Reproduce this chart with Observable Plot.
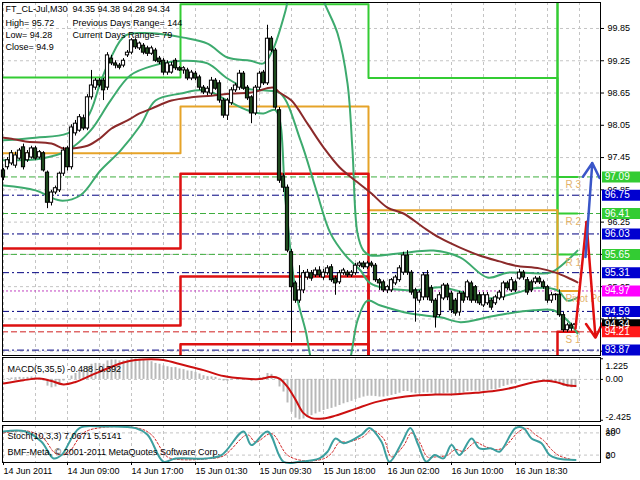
<!DOCTYPE html>
<html><head><meta charset="utf-8">
<script src="https://cdn.jsdelivr.net/npm/d3@7"></script>
<script src="https://cdn.jsdelivr.net/npm/@observablehq/plot@0.6"></script>
<style>
html,body{margin:0;padding:0;background:#fff;}
#wrap{position:relative;width:640px;height:480px;overflow:hidden;background:#fff;}
#wrap svg{position:absolute;left:0;}
</style></head><body><div id="wrap"></div>
<script>
// ---------- DATA ----------
const O = [97.21,97.27,97.34,97.30,97.43,97.64,97.40,97.45,97.62,97.45,
97.53,97.17,96.61,96.80,96.84,97.15,97.62,97.27,97.90,97.95,
98.18,97.99,98.57,98.75,98.88,98.88,98.75,99.29,99.20,99.16,
99.16,99.35,99.40,99.63,99.48,99.53,99.48,99.38,99.44,99.29,
99.25,99.03,99.03,99.25,99.11,99.07,99.07,98.92,99.01,98.94,
98.75,98.66,98.64,98.88,98.83,98.51,98.23,98.46,98.70,98.75,
99.01,98.75,98.57,98.27,98.75,99.03,98.83,99.66,99.44,98.33,
97.10,96.89,95.69,95.11,94.79,94.98,95.22,95.30,95.26,95.35,
95.22,95.30,95.41,95.20,95.13,95.30,95.31,95.26,95.30,95.44,
95.48,95.41,95.48,95.44,95.17,95.13,94.98,94.98,95.11,95.17,
95.31,95.63,95.31,94.98,94.79,94.85,95.26,95.02,94.79,94.52,
94.83,95.07,94.92,94.79,94.57,94.92,94.85,95.11,95.04,94.89,
94.70,94.74,94.79,94.74,94.83,94.85,95.11,94.98,95.13,95.20,
95.31,95.17,95.13,95.13,95.20,95.13,95.04,94.79,94.89,94.90,
94.52,94.24,94.33,94.35];
const H = [97.25,97.45,97.58,97.55,97.62,97.70,97.58,97.66,97.66,97.58,
97.56,97.20,96.84,96.92,97.18,97.64,97.66,98.06,98.14,98.25,
98.24,98.62,99.07,98.92,98.92,98.92,99.40,99.35,99.25,99.20,
99.29,99.44,99.66,99.66,99.60,99.57,99.52,99.52,99.48,99.33,
99.29,99.25,99.22,99.29,99.14,99.14,99.11,99.07,99.05,98.98,
98.79,98.77,98.94,98.92,98.88,98.55,98.55,98.75,98.83,99.07,
99.05,98.79,98.60,98.79,99.05,99.07,99.91,99.70,99.48,98.38,
97.15,96.94,95.74,95.15,95.44,95.35,95.37,95.35,95.40,95.42,
95.37,95.44,95.46,95.24,95.35,95.39,95.35,95.35,95.48,95.52,
95.52,95.52,95.52,95.48,95.20,95.17,95.07,95.20,95.26,95.44,
95.69,95.72,95.35,95.02,94.98,95.31,95.35,95.07,94.83,94.94,
95.11,95.11,94.96,94.83,94.96,94.96,95.17,95.15,95.07,94.94,
94.94,94.94,94.83,94.89,94.98,95.15,95.15,95.22,95.17,95.37,
95.35,95.22,95.17,95.24,95.24,95.17,95.07,94.94,94.92,94.99,
94.57,94.37,94.37,94.38];
const L = [97.02,97.22,97.30,97.25,97.40,97.22,97.36,97.42,97.40,97.42,
97.18,96.50,96.55,96.76,96.80,97.10,97.20,97.22,97.85,97.92,
97.95,97.95,98.52,98.70,98.75,98.51,98.70,99.16,99.10,99.08,
99.12,99.31,99.36,99.46,99.44,99.36,99.33,99.35,99.22,99.18,
98.98,98.98,99.00,99.07,99.05,99.00,98.88,98.88,98.88,98.70,
98.62,98.60,98.60,98.70,98.46,98.18,98.14,98.42,98.66,98.70,
98.70,98.51,98.08,98.23,98.70,98.79,98.79,99.40,98.33,96.97,
96.80,95.68,94.01,94.74,94.74,94.92,95.17,95.15,95.22,95.22,
95.17,95.26,95.13,94.89,95.09,95.26,95.22,95.22,95.26,95.40,
95.37,95.37,95.40,95.13,94.98,94.94,94.92,94.94,95.07,95.13,
95.26,95.26,94.89,94.39,94.74,94.79,94.79,94.74,94.28,94.48,
94.79,94.79,94.55,94.50,94.50,94.74,94.79,94.74,94.74,94.70,
94.66,94.70,94.61,94.70,94.79,94.79,94.98,94.94,94.94,95.17,
95.17,94.89,94.94,95.09,95.09,95.00,94.74,94.74,94.79,94.48,
94.20,94.20,94.22,94.28];
const C = [97.08,97.40,97.53,97.49,97.58,97.27,97.53,97.62,97.43,97.55,
97.21,96.61,96.80,96.88,97.15,97.58,97.27,98.01,98.08,98.20,
97.99,98.57,98.79,98.88,98.79,98.70,99.35,99.20,99.16,99.12,
99.25,99.40,99.63,99.50,99.57,99.40,99.38,99.48,99.25,99.22,
99.03,99.20,99.16,99.11,99.07,99.11,98.92,99.03,98.92,98.75,
98.66,98.73,98.88,98.73,98.51,98.23,98.51,98.70,98.79,99.01,
98.73,98.55,98.27,98.75,99.01,98.83,99.66,99.44,98.38,97.02,
96.89,95.72,95.04,94.79,94.98,95.30,95.31,95.20,95.35,95.26,
95.31,95.39,95.17,95.11,95.30,95.35,95.26,95.31,95.44,95.48,
95.41,95.48,95.44,95.17,95.11,94.98,95.04,95.17,95.22,95.39,
95.63,95.31,94.94,94.83,94.94,95.26,94.85,94.79,94.48,94.89,
95.07,94.85,94.61,94.55,94.92,94.79,95.13,94.79,94.79,94.74,
94.89,94.89,94.66,94.85,94.94,95.11,95.02,95.17,94.98,95.31,
95.22,94.94,94.98,95.20,95.13,95.04,94.79,94.89,94.90,94.52,
94.24,94.33,94.27,94.34];

// moving average (brown) read points [bar, price]
const maPts = [[0,97.82],[2,97.80],[5.5,97.75],[12,97.71],[15,97.62],[17,97.62],[21,97.67],[24,97.80],[27,97.99],[31,98.14],[34,98.27],[37,98.36],[42,98.51],[47,98.57],[52,98.60],[57,98.64],[62,98.66],[67.5,98.75],[69,98.66],[72,98.51],[76,98.08],[80,97.64],[84,97.27],[88.5,96.99],[92,96.78],[96,96.52],[100,96.41],[105,96.15],[109,95.96],[114,95.78],[119,95.63],[124,95.52],[128,95.44],[134,95.39],[138,95.31],[141,95.22],[143.5,95.13]];
// Bollinger bands (green) read points
const bbUpper = [[0,97.77],[8,97.82],[16,97.90],[21,98.20],[24.25,98.85],[26.75,99.29],[30.5,99.72],[36.75,99.76],[45,99.68],[51,99.57],[56,99.31],[61.75,99.25],[65,99.20],[67.25,99.44],[70.5,100.18],[72.25,100.74],[76.75,101.11],[80,100.37],[83.5,99.76],[86,98.83],[87.25,97.58],[88.5,96.04],[90,95.72],[91.75,95.63],[99.25,95.67],[107.5,95.72],[114.25,95.59],[121,95.22],[126,95.31],[132.5,95.30],[136.75,95.31],[141,95.54],[143.5,95.72]];
const bbMiddle = [[0,97.40],[9.25,97.43],[16,97.58],[21.75,97.95],[26.75,98.51],[31.75,98.98],[37.5,99.16],[45,99.25],[51,99.20],[56,98.92],[61,98.73],[65,98.70],[69.25,98.64],[74.25,97.77],[78,96.89],[81.75,96.04],[85.5,95.63],[89.25,95.35],[91.75,95.11],[101.75,94.98],[109.25,95.04],[116,94.92],[121,94.83],[128.5,94.94],[132.5,95.02],[138.5,94.98],[141,94.79],[143.5,94.85]];
const bbLower = [[0,96.93],[8,96.84],[14.25,96.65],[19.25,96.75],[24.25,97.21],[29.25,97.58],[34.25,98.05],[38,98.51],[44.25,98.64],[50.5,98.70],[56,98.51],[61,98.33],[65,98.27],[68,98.33],[70.5,96.65],[73,94.98],[75.5,94.24],[78,93.49],[84.25,93.12],[86.75,93.73],[88.5,94.42],[91,94.79],[94.25,94.70],[101.75,94.55],[109.25,94.48],[114.25,94.39],[121,94.48],[126,94.55],[132.5,94.61],[137.5,94.61],[141,94.42],[143.5,94.18]];

// daily pivot system
const dayStart = [-0.25, 44.25, 91.25, 138.5];
const dayEnd = 143.5;
const pivotVals = [97.53, 98.40, 96.47, 94.97];
const r1Vals = [98.94, 100.30, 98.93, 95.65];
const r2Vals = [100.71, 102.20, 101.40, 96.41];
const r3Vals = [102.50, 104.00, 104.80, 97.09];
const s1Vals = [95.76, 97.15, 93.03, 94.21];
const s2Vals = [94.33, 95.24, 90.57, 93.53];
const s3Vals = [92.58, 93.98, 88.00, 92.10];
const levelVals  = [97.09, 96.75, 96.41, 96.03, 95.65, 95.31, 94.97, 94.59, 94.21, 93.87];
const levelKinds = ["R","M","R","M","R","M","P","M","S","M"];
const levelNames = ["R 3", "", "R 2", "", "R 1", "", "Pivot Point", "", "S 1", ""];
const lastPrice = 94.34;
const priceTicks = [99.85, 99.25, 98.65, 98.05, 97.45, 96.85, 96.25, 95.65, 95.05, 94.45, 93.85];
const gridBars = [0,8,16,24,32,40,48,56,64,72,80,88,96,104,112,120,128,136,144];
const timeTicks = [0,16,32,48,64,80,96,112,128];
const timeLabels = ["14 Jun 2011","14 Jun 09:00","14 Jun 17:00","15 Jun 01:30","15 Jun 09:30","15 Jun 18:00","16 Jun 02:00","16 Jun 10:00","16 Jun 18:30"];
// signal arrows [bar, price]
const blueArrow = [[145.5, 95.60],[147.2, 97.35]];
const redZig = [[143.0, 94.27],[145.75, 96.25],[148.0, 94.10]];

// MACD(5,35,5)
const macdHist = [0.02,0.05,0.08,0.10,0.12,0.10,0.12,0.14,0.10,0.05,
-0.10,-0.40,-0.50,-0.45,-0.35,-0.10,0.00,0.20,0.35,0.50,
0.55,0.75,0.90,0.95,0.95,0.90,1.10,1.15,1.15,1.10,
1.10,1.15,1.25,1.22,1.20,1.15,1.10,1.05,0.95,0.90,
0.80,0.75,0.70,0.70,0.62,0.58,0.50,0.48,0.42,0.32,
0.22,0.16,0.15,0.12,0.02,-0.10,-0.12,-0.05,0.00,0.08,
0.05,-0.02,-0.12,-0.05,0.10,0.12,0.35,0.30,0.05,-0.45,
-0.75,-1.40,-1.95,-2.30,-2.40,-2.35,-2.25,-2.15,-2.05,-1.95,
-1.85,-1.78,-1.72,-1.65,-1.55,-1.45,-1.38,-1.30,-1.20,-1.12,
-1.05,-1.00,-1.00,-1.02,-1.05,-1.05,-1.00,-0.95,-0.90,-0.82,
-0.72,-0.72,-0.80,-0.85,-0.85,-0.80,-0.80,-0.82,-0.90,-0.90,
-0.85,-0.82,-0.85,-0.88,-0.85,-0.80,-0.72,-0.70,-0.70,-0.72,
-0.70,-0.66,-0.62,-0.60,-0.52,-0.42,-0.35,-0.28,-0.25,-0.12,
-0.05,-0.05,-0.02,0.00,0.00,-0.05,-0.12,-0.18,-0.20,-0.30,
-0.42,-0.48,-0.50,-0.488];
const macdSignal = [[0,-0.25],[5,-0.05],[9,0.05],[12,-0.10],[15,-0.30],[18,-0.15],[22,0.25],[26,0.65],[30,1.00],[33,1.15],[37,1.20],[40,1.15],[45,0.85],[50,0.55],[55,0.20],[60,0.05],[64,0.02],[67,0.15],[69,0.05],[71,-0.45],[73,-1.20],[75,-2.00],[77,-2.30],[80,-2.32],[83,-2.15],[88,-1.75],[93,-1.35],[98,-1.10],[103,-0.95],[108,-0.90],[113,-0.88],[118,-0.80],[123,-0.68],[128,-0.45],[132,-0.20],[135,-0.08],[138,-0.15],[141,-0.35],[143,-0.392]];
const macdTicks = [1.225, 0, -2.425];
const macdTickLabels = ["1.225", "0.00", "-2.425"];

// Stochastic(10,3,3)
const stochMain = [[0,84],[5.5,84],[9.5,56],[12.5,11],[14.5,20],[19,93],[25,97],[33,93],[36,75],[40,2],[43,11],[50.5,11],[54.5,20],[60,84],[62,47],[66,84],[70,2],[74,2],[79,11],[81,29],[83,65],[85,52],[89.5,75],[91.5,93],[94.5,56],[96.5,2],[99.7,56],[101.7,93],[103.7,47],[105.7,2],[107.8,20],[110,11],[112,47],[114,20],[117,65],[119,38],[122,38],[124,29],[128,93],[130,93],[132,65],[134.5,52],[136.5,20],[138.5,11],[143,7.07]];
const stochSignal = [[0,80],[6,85],[10,65],[13,25],[16,25],[20,80],[25,95],[34,92],[37,75],[41,15],[44,8],[51,10],[55,18],[61,75],[63,55],[67,78],[71,20],[75,5],[80,10],[82,25],[84,55],[86,55],[90,70],[92,88],[95,65],[97,15],[100,45],[102,80],[104,55],[106,15],[108,15],[111,20],[113,35],[115,30],[118,55],[120,45],[123,35],[125,40],[129,85],[131,92],[133,75],[135,60],[137,35],[139,18],[143,5.51]];
const stochTicks = [100, 80, 20, 0];

// ---------- DRAW ----------
const FONT = "Liberation Sans, Arial, sans-serif";
const xDom = [-0.25, 149.25];
const XR = xDom[1];
const GRID = "#c4c4c4";
const BOX = {R:"#33cc33", M:"#0000d0", P:"#ff00ff", S:"#ff1a1a"};
const LINE = {R:"#3fae3f", M:"#000080", P:"#c040c0", S:"#d02020"};
const DASH = {R:"6,3", M:"7,3,2,3", P:"2,2", S:"6,3"};

const candles = O.map((o, i) => ({i, o, h:H[i], l:L[i], c:C[i], up: C[i] >= o}));
const levels = levelVals.map((v, k) => ({v, k: levelKinds[k], name: levelNames[k]}));
const stepPts = vals => dayStart.map((b, k) => [b, vals[k]]).concat([[dayEnd, vals[vals.length-1]]]);
const boxes = levels.slice(0, 8).concat([{v: lastPrice, k:"K"}], levels.slice(8));

// one right-margin label, with its own vertical nudge
const sideLabel = (value, label, dy) => Plot.text([value], {x:XR, y:d => d, dx:5, dy, text:() => label, textAnchor:"start", clip:false});

const wrap = document.getElementById("wrap");
const common = {width:640, marginLeft:2, marginRight:40, x:{type:"linear", domain:xDom, axis:null},
  style:{fontFamily:FONT, fontSize:"9px", color:"#000", background:"transparent", overflow:"visible"}};

const main = Plot.plot({...common, height:357, marginTop:2, marginBottom:2,
  y:{domain:[93.77, 100.333], axis:null},
  marks:[
    Plot.ruleY(priceTicks, {stroke:GRID, strokeDasharray:"3,3"}),
    Plot.ruleX(gridBars, {stroke:GRID, strokeDasharray:"3,3"}),
    ...["R","M","P","S"].map(k => Plot.ruleY(levels.filter(d => d.k === k), {y:"v", stroke:LINE[k], strokeDasharray:DASH[k], strokeWidth:1})),
    Plot.line(stepPts(r3Vals), {curve:"step-after", stroke:"#33cc33", strokeWidth:2, clip:true}),
    Plot.line(stepPts(r2Vals), {curve:"step-after", stroke:"#33cc33", strokeWidth:2, clip:true}),
    Plot.line(stepPts(r1Vals), {curve:"step-after", stroke:"#33cc33", strokeWidth:2, clip:true}),
    Plot.line(stepPts(pivotVals), {curve:"step-after", stroke:"#e6a328", strokeWidth:2, clip:true}),
    Plot.line(stepPts(s3Vals), {curve:"step-after", stroke:"#dd1111", strokeWidth:2.5, clip:true}),
    Plot.line(stepPts(s2Vals), {curve:"step-after", stroke:"#dd1111", strokeWidth:2.5, clip:true}),
    Plot.line(stepPts(s1Vals), {curve:"step-after", stroke:"#dd1111", strokeWidth:2.5, clip:true}),
    Plot.line(bbUpper, {curve:"catmull-rom", stroke:"#3daa6e", strokeWidth:2, clip:true}),
    Plot.line(bbMiddle, {curve:"catmull-rom", stroke:"#3daa6e", strokeWidth:2, clip:true}),
    Plot.line(bbLower, {curve:"catmull-rom", stroke:"#3daa6e", strokeWidth:2, clip:true}),
    Plot.line(maPts, {curve:"catmull-rom", stroke:"#8b2a2a", strokeWidth:2, clip:true}),
    Plot.ruleX(candles, {x:"i", y1:"l", y2:"h", stroke:"#000", strokeWidth:1}),
    Plot.rect(candles, {x1:d => d.i - 0.4, x2:d => d.i + 0.4, y1:d => Math.min(d.o, d.c), y2:d => Math.max(d.o, d.c),
      fill:d => d.up ? "#ffffff" : "#1d4a1d", stroke:"#000", strokeWidth:1}),
    Plot.text(levels.filter(d => d.name), {x:140.5, y:"v", text:"name", textAnchor:"start", dy:8, fill:"#e3b26a", fontSize:10, clip:true}),
    Plot.line(redZig.slice(0, 2), {stroke:"#e01010", strokeWidth:2.5, clip:false}),
    Plot.arrow([redZig], {x1:d => d[1][0], y1:d => d[1][1], x2:d => d[2][0], y2:d => d[2][1], stroke:"#e01010", strokeWidth:2.5, headLength:10, clip:false}),
    Plot.arrow([blueArrow], {x1:d => d[0][0], y1:d => d[0][1], x2:d => d[1][0], y2:d => d[1][1], stroke:"#3a56c8", strokeWidth:2.5, headLength:10, clip:false}),
    Plot.frame({stroke:"#000"}),
    Plot.axisY({anchor:"right", ticks:priceTicks, tickSize:3, tickPadding:4, tickFormat:d => d.toFixed(2), fontSize:9}),
    Plot.ruleY(boxes, {y:"v", x1:XR + 0.5, x2:XR + 10.25, stroke:d => d.k === "K" ? "#000" : BOX[d.k], strokeWidth:11, clip:false}),
    Plot.text(boxes, {y:"v", x:XR + 1.05, text:d => d.v.toFixed(2), textAnchor:"start", fill:"#fff", fontSize:10, clip:false}),
    Plot.text(["FT_CL-Jul,M30  94.35 94.38 94.28 94.34"], {frameAnchor:"top-left", dx:3, dy:3, lineAnchor:"top", textAnchor:"start"}),
    Plot.text(["High= 95.72\nLow= 94.28\nClose= 94.9"], {frameAnchor:"top-left", dx:3, dy:15, lineAnchor:"top", textAnchor:"start", lineHeight:1.333}),
    Plot.text(["Previous Days Range= 144\nCurrent Days Range= 79"], {frameAnchor:"top-left", dx:70, dy:15, lineAnchor:"top", textAnchor:"start", lineHeight:1.333})
  ]});
main.style.top = "0px";
wrap.appendChild(main);

const macd = Plot.plot({...common, height:66, marginTop:1, marginBottom:1,
  y:{domain:[-2.5, 1.3], axis:null},
  marks:[
    Plot.ruleX(gridBars, {stroke:GRID, strokeDasharray:"3,3"}),
    Plot.ruleY([0], {stroke:GRID, strokeDasharray:"3,3"}),
    Plot.ruleX(macdHist, {x:(d, i) => i, y1:0, y2:d => d, stroke:"#b8b8b8", strokeWidth:2}),
    Plot.line(macdSignal, {curve:"catmull-rom", stroke:"#cc1010", strokeWidth:2}),
    Plot.frame({stroke:"#000"}),
    Plot.ruleY(macdTicks, {y:d => d, x1:XR, x2:XR + 0.75, stroke:"#000", clip:false}),
    sideLabel(macdTicks[0], macdTickLabels[0], 7),
    sideLabel(macdTicks[1], macdTickLabels[1], 0),
    sideLabel(macdTicks[2], macdTickLabels[2], -3),
    Plot.text(["MACD(5,35,5) -0.488 -0.392"], {frameAnchor:"top-left", dx:5, dy:8, lineAnchor:"top", textAnchor:"start"})
  ]});
macd.style.top = "356px";
wrap.appendChild(macd);

const labelMap = new Map(timeTicks.map((t, k) => [t, timeLabels[k]]));
const stoch = Plot.plot({...common, height:57, marginTop:2, marginBottom:18,
  y:{domain:[0, 100], axis:null},
  marks:[
    Plot.ruleX(gridBars, {stroke:GRID, strokeDasharray:"3,3"}),
    Plot.ruleY([80, 20], {stroke:GRID, strokeDasharray:"3,3"}),
    Plot.line(stochSignal, {curve:"catmull-rom", stroke:"#d02020", strokeWidth:1, strokeDasharray:"2,2"}),
    Plot.line(stochMain, {curve:"catmull-rom", stroke:"#3c9f9f", strokeWidth:2}),
    Plot.frame({stroke:"#000"}),
    sideLabel(stochTicks[0], String(stochTicks[0]), 6),
    sideLabel(stochTicks[1], String(stochTicks[1]), 0),
    sideLabel(stochTicks[2], String(stochTicks[2]), 0),
    sideLabel(stochTicks[3], String(stochTicks[3]), -6),
    Plot.axisX(timeTicks, {tickSize:3, tickPadding:2, tickFormat:d => labelMap.get(d), textAnchor:"start", fontSize:9}),
    Plot.text(["Stoch(10,3,3) 7.0671 5.5141"], {frameAnchor:"top-left", dx:5, dy:7, lineAnchor:"top", textAnchor:"start"}),
    Plot.text(["BMF-Meta, © 2001-2011 MetaQuotes Software Corp."], {frameAnchor:"top-left", dx:5, dy:23, lineAnchor:"top", textAnchor:"start"})
  ]});
stoch.style.top = "423px";
wrap.appendChild(stoch);
</script></body></html>
